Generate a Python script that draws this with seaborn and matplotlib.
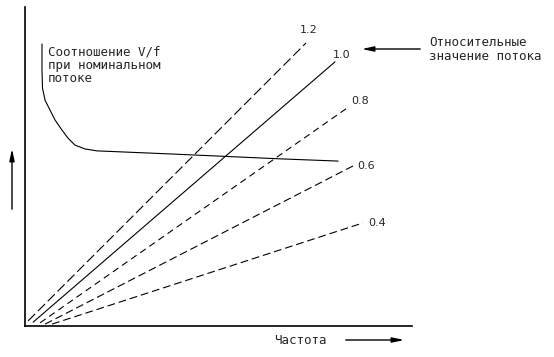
import numpy as np
import pandas as pd
import matplotlib.pyplot as plt
from matplotlib.patches import FancyArrowPatch
import seaborn as sns

# relative flux levels and the end points of each V-f line (freq %, voltage %)
flux_levels = ['1.2', '1.0', '0.8', '0.6', '0.4']
freq_start = [0.8, 2.1, 3.9, 5.2, 7.0]
volt_start = [1.6, 1.2, 1.0, 0.6, 0.6]
freq_end = [72.6, 80.1, 83.2, 85.3, 87.3]
volt_end = [88.7, 82.8, 68.3, 50.5, 32.3]

# V/f ratio at nominal flux
vf_freq = [4.39, 4.39, 4.52, 5.17, 6.46, 7.75, 9.56, 11.11, 12.92, 15.5, 18.6, 38.24, 65.9, 80.9]
vf_volt = [88.4, 80.3, 74.6, 70.8, 67.7, 64.6, 61.4, 58.9, 56.7, 55.5, 54.9, 53.9, 52.4, 51.7]

rows = []
for f, x0, y0, x1, y1 in zip(flux_levels, freq_start, volt_start, freq_end, volt_end):
    rows.append({'flux': f, 'freq': x0, 'volt': y0})
    rows.append({'flux': f, 'freq': x1, 'volt': y1})
lines = pd.DataFrame(rows)
vf = pd.DataFrame({'freq': vf_freq, 'volt': vf_volt})

sns.set_style('white')
plt.rcParams['font.family'] = ['DejaVu Sans Mono', 'DejaVu Sans']

W, H = 554, 357
fig = plt.figure(figsize=(W / 100, H / 100), dpi=100)
ax = fig.add_axes([25 / W, 1 - 326 / H, 387 / W, 319 / H])

dashes = {'1.2': (9, 3.5), '1.0': '', '0.8': (6, 4), '0.6': (7, 3.5), '0.4': (7, 3.5)}
sns.lineplot(data=lines, x='freq', y='volt', hue='flux', style='flux',
             hue_order=flux_levels, palette=['black'] * 5, dashes=dashes,
             linewidth=0.8, legend=False, estimator=None, ax=ax)
sns.lineplot(data=vf, x='freq', y='volt', color='black', linewidth=0.8,
             sort=False, estimator=None, ax=ax)

ax.set_xlim(0, 100)
ax.set_ylim(0, 100)
ax.set_xticks([])
ax.set_yticks([])
ax.set_xlabel('')
ax.set_ylabel('')
for side in ['top', 'right']:
    ax.spines[side].set_visible(False)
for side in ['left', 'bottom']:
    ax.spines[side].set_color('black')
    ax.spines[side].set_linewidth(1.2)

# flux labels next to line ends
offsets = {'1.2': (3, 13), '1.0': (7, 7), '0.8': (13, 7), '0.6': (11, -1), '0.4': (14, 0)}
for f, x1, y1 in zip(flux_levels, freq_end, volt_end):
    ax.annotate(f, (x1, y1), xytext=offsets[f], textcoords='offset pixels',
                ha='center', va='center', fontsize=8, family='DejaVu Sans',
                annotation_clip=False)


def fp(x, y):
    return (x / W, 1 - y / H)


fig.text(*fp(48, 52), 'Соотношение V/f', fontsize=9, va='center')
fig.text(*fp(48, 65), 'при номинальном', fontsize=9, va='center')
fig.text(*fp(48, 78), 'потоке', fontsize=9, va='center')
fig.text(*fp(429, 43), 'Относительные', fontsize=9, va='center')
fig.text(*fp(429, 57), 'значение потока', fontsize=9, va='center')
fig.text(*fp(274, 340), 'Частота', fontsize=9, va='center')

for a, b in [((423, 49), (359, 49)), ((12, 212), (12, 146)), ((343, 340), (407, 340))]:
    fig.add_artist(FancyArrowPatch(fp(*a), fp(*b), transform=fig.transFigure,
                                   arrowstyle='-|>,head_length=0.7,head_width=0.15',
                                   mutation_scale=10, color='black', lw=1.0))

fig.savefig('out.png', dpi=100, facecolor='white')
